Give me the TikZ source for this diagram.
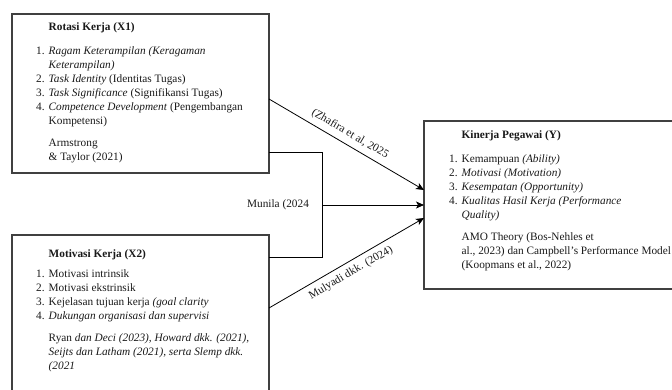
\documentclass[tikz,border=0pt]{standalone}
\usepackage{fontspec}
\setmainfont{Liberation Serif}
\usetikzlibrary{arrows.meta}
\newcommand{\nm}[1]{\makebox[12.5pt][l]{#1}}
\newcommand{\ii}{\hspace*{12.5pt}}
\begin{document}
\begin{tikzpicture}[x=1pt,y=-1pt,
  box/.style={draw=black!75, line width=1.1pt, anchor=north west, inner sep=0pt, outer sep=0pt},
  txt/.style={anchor=north west, align=left, inner sep=0pt, font=\fontsize{11.3}{14}\selectfont, text=black!90},
  conn/.style={draw=black, line width=0.8pt},
  arr/.style={conn, -{Stealth[length=8pt,width=7pt,inset=2pt]}},
  lab/.style={font=\fontsize{11.3}{14}\selectfont, inner sep=1pt, text=black!90}]
\useasboundingbox (0,0) rectangle (672,390);
\node[box, minimum width=257pt, minimum height=159pt] (x1) at (12,14) {};
\node[box, minimum width=257pt, minimum height=170pt] (x2) at (12,235) {};
\node[box, minimum width=270pt, minimum height=168pt] (yb) at (424,121) {};
\node[txt] (x1t) at (36,22) {\ii\textbf{Rotasi Kerja (X1)}\\[10pt]
\nm{1.}\textit{Ragam Keterampilan (Keragaman}\\
\ii\textit{Keterampilan)}\\
\nm{2.}\textit{Task Identity} (Identitas Tugas)\\
\nm{3.}\textit{Task Significance} (Signifikansi Tugas)\\
\nm{4.}\textit{Competence Development} (Pengembangan\\
\ii Kompetensi)\\[8pt]
\ii Armstrong\\
\ii\& Taylor (2021)};
\node[txt] (x2t) at (36,249) {\ii\textbf{Motivasi Kerja (X2)}\\[6pt]
\nm{1.}Motivasi intrinsik\\
\nm{2.}Motivasi ekstrinsik\\
\nm{3.}Kejelasan tujuan kerja \textit{(goal clarity}\\
\nm{4.}\textit{Dukungan organisasi dan supervisi}\\[8pt]
\ii Ryan \textit{dan Deci (2023), Howard dkk. (2021),}\\
\ii\textit{Seijts dan Latham (2021), serta Slemp dkk.}\\
\ii\textit{(2021}};
\node[txt] (yt) at (449,130) {\ii\textbf{Kinerja Pegawai (Y)}\\[10pt]
\nm{1.}Kemampuan \textit{(Ability)}\\
\nm{2.}\textit{Motivasi (Motivation)}\\
\nm{3.}\textit{Kesempatan (Opportunity)}\\
\nm{4.}\textit{Kualitas Hasil Kerja (Performance}\\
\ii\textit{Quality)}\\[8pt]
\ii AMO Theory (Bos-Nehles et\\
\ii al., 2023) dan Campbell's Performance Model\\
\ii(Koopmans et al., 2022)};
\coordinate (bt) at (322,152);
\coordinate (bb) at (322,257);
\coordinate (mj) at (322,205);
\draw[conn] ([yshift=-138pt]x1.north east) -- (bt) -- (bb) -- ([yshift=-22pt]x2.north east);
\node[lab] (mun) at (278,205) {Munila (2024};
\draw[arr] (mj) -- (mj -| yb.west);
\draw[arr] ([yshift=-85pt]x1.north east) -- ([yshift=15pt]yb.west);
\draw[arr] ([yshift=-73pt]x2.north east) -- ([yshift=-13pt]yb.west);
\node[lab, rotate=-30.6] (zh) at (350,134) {(Zhafira et al, 2025};
\node[lab, rotate=30.3] (mu) at (351,273) {Mulyadi dkk. (2024)};
\end{tikzpicture}
\end{document}
